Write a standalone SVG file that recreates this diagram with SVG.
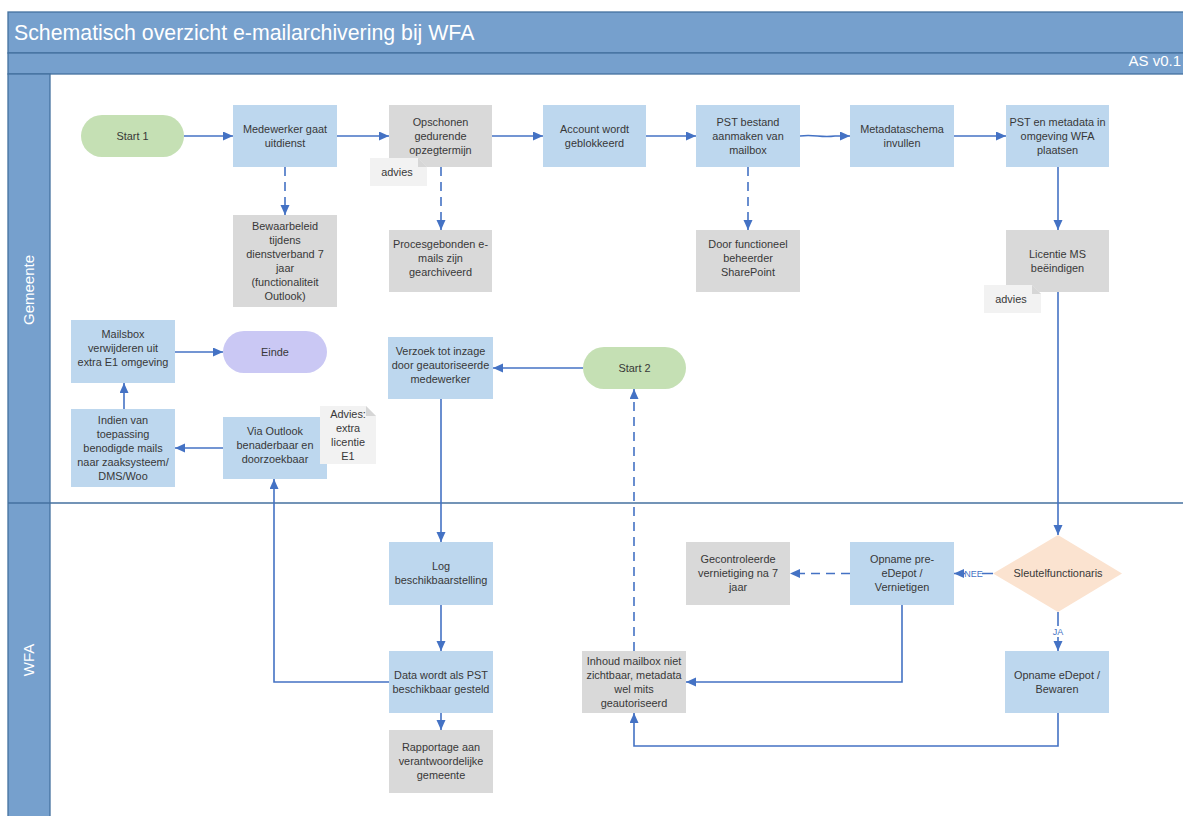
<svg xmlns="http://www.w3.org/2000/svg" width="1183" height="816" viewBox="0 0 1183 816">
<defs>
<style>
.band{fill:#76a0cd;stroke:#44719f;stroke-width:1.3}
.blue{fill:#bdd7ee}
.grey{fill:#d9d9d9}
.green{fill:#c5e0b4}
.lav{fill:#cac8f4}
.dia{fill:#fbe3d0}
.note{fill:#f2f2f2}
.fold{fill:#d6d6d6}
.t{font-family:"Liberation Sans",Arial,sans-serif;font-size:10.9px;fill:#383838;text-anchor:middle}
.lbl{font-family:"Liberation Sans",Arial,sans-serif;font-size:9px;fill:#4472c4;text-anchor:middle}
.c{stroke:#4472c4;stroke-width:1.6;fill:none}
.d{stroke-dasharray:9 6}
.a{marker-end:url(#ah)}
.lane{font-family:"Liberation Sans",Arial,sans-serif;font-size:15px;fill:#fff;text-anchor:middle}
</style>
<marker id="ah" markerWidth="10" markerHeight="10" refX="10" refY="4.5" orient="auto" markerUnits="userSpaceOnUse">
<path d="M0,0 L10,4.5 L0,9 z" fill="#4472c4"/>
</marker>
</defs>
<rect width="1183" height="816" fill="#fff"/>
<g id="frame">
<rect class="band" x="8" y="12" width="1185" height="41"/>
<rect class="band" x="8" y="53" width="1185" height="21"/>
<rect class="band" x="8" y="74" width="42" height="760"/>
<line x1="8" y1="503" x2="1190" y2="503" stroke="#44719f" stroke-width="1.3"/>
<text x="14" y="40" font-family="Liberation Sans,Arial,sans-serif" font-size="21.3" fill="#fff">Schematisch overzicht e-mailarchivering bij WFA</text>
<text x="1181" y="66" font-family="Liberation Sans,Arial,sans-serif" font-size="15" fill="#fff" text-anchor="end">AS v0.1</text>
<text class="lane" transform="translate(34,290) rotate(-90)">Gemeente</text>
<text class="lane" transform="translate(34,660) rotate(-90)">WFA</text>
</g>
<g id="connectors">
<path class="c a" d="M184 136 H233"/>
<path class="c a" d="M337 136 H389"/>
<path class="c a" d="M492 136 H543"/>
<path class="c a" d="M646 136 H696"/>
<path class="c a" d="M800 136 C815 134 820 138 835 136 H850"/>
<path class="c a" d="M954 136 H1006"/>
<path class="c d a" d="M285 167 V215"/>
<path class="c d a" d="M441 167 V230"/>
<path class="c d a" d="M748 167 V230"/>
<path class="c a" d="M1058 167 V230"/>
<path class="c a" d="M1058 292 V535"/>
<path class="c a" d="M993 573.5 H954"/>
<path class="c d a" d="M850 573.5 H790"/>
<path class="c a" d="M1058 612 V651"/>
<path class="c a" d="M902 605 V682 H686"/>
<path class="c a" d="M1058 713 V746 H634 V713"/>
<path class="c d a" d="M634 651 V389"/>
<path class="c a" d="M583 368 H493"/>
<path class="c a" d="M441 399 V542"/>
<path class="c a" d="M441 605 V651"/>
<path class="c a" d="M441 713 V730"/>
<path class="c a" d="M389 682 H274 V479"/>
<path class="c a" d="M223 448 H175"/>
<path class="c a" d="M124 409 V383"/>
<path class="c a" d="M175 352 H223"/>
<rect x="965" y="567" width="17" height="12" fill="#fff"/>
<text class="lbl" x="973.5" y="576.5">NEE</text>
<rect x="1050" y="626" width="16" height="11" fill="#fff"/>
<text class="lbl" x="1058" y="635">JA</text>
</g>
<g id="start1"><rect class="green" x="81" y="115" width="103" height="42" rx="21"/><text class="t" x="132.5" y="139.5">Start 1</text></g>
<g id="medewerker"><rect class="blue" x="233" y="105" width="104" height="62"/><text class="t" x="285" y="132.5">Medewerker gaat</text><text class="t" x="285" y="146.5">uitdienst</text></g>
<g id="opschonen"><rect class="grey" x="389" y="105" width="103" height="62"/><text class="t" x="440.5" y="125.5">Opschonen</text><text class="t" x="440.5" y="139.5">gedurende</text><text class="t" x="440.5" y="153.5">opzegtermijn</text></g>
<g id="advies1"><path class="note" d="M370 158 H418 L427 167 V186 H370 Z"/><path class="fold" d="M418 158 V167 H427 Z"/><text class="t" x="397" y="175.5">advies</text></g>
<g id="account"><rect class="blue" x="543" y="105" width="103" height="62"/><text class="t" x="594.5" y="132.5">Account wordt</text><text class="t" x="594.5" y="146.5">geblokkeerd</text></g>
<g id="pst"><rect class="blue" x="696" y="105" width="104" height="62"/><text class="t" x="748" y="125.5">PST bestand</text><text class="t" x="748" y="139.5">aanmaken van</text><text class="t" x="748" y="153.5">mailbox</text></g>
<g id="metadata"><rect class="blue" x="850" y="105" width="104" height="62"/><text class="t" x="902" y="132.5">Metadataschema</text><text class="t" x="902" y="146.5">invullen</text></g>
<g id="pstwfa"><rect class="blue" x="1006" y="105" width="103" height="62"/><text class="t" x="1057.5" y="125.5">PST en metadata in</text><text class="t" x="1057.5" y="139.5">omgeving WFA</text><text class="t" x="1057.5" y="153.5">plaatsen</text></g>
<g id="bewaar"><rect class="grey" x="233" y="215" width="104" height="92"/><text class="t" x="285" y="229.5">Bewaarbeleid</text><text class="t" x="285" y="243.5">tijdens</text><text class="t" x="285" y="257.5">dienstverband 7</text><text class="t" x="285" y="271.5">jaar</text><text class="t" x="285" y="285.5">(functionaliteit</text><text class="t" x="285" y="299.5">Outlook)</text></g>
<g id="procesgebonden"><rect class="grey" x="389" y="230" width="103" height="62"/><text class="t" x="440.5" y="247.5">Procesgebonden e-</text><text class="t" x="440.5" y="261.5">mails zijn</text><text class="t" x="440.5" y="275.5">gearchiveerd</text></g>
<g id="doorfunctioneel"><rect class="grey" x="696" y="230" width="104" height="62"/><text class="t" x="748" y="247.5">Door functioneel</text><text class="t" x="748" y="261.5">beheerder</text><text class="t" x="748" y="275.5">SharePoint</text></g>
<g id="licentie"><rect class="grey" x="1006" y="230" width="103" height="62"/><text class="t" x="1057.5" y="257.5">Licentie MS</text><text class="t" x="1057.5" y="271.5">beëindigen</text></g>
<g id="advies2"><path class="note" d="M984 285 H1032 L1041 294 V313 H984 Z"/><path class="fold" d="M1032 285 V294 H1041 Z"/><text class="t" x="1011" y="302.5">advies</text></g>
<g id="mailsbox"><rect class="blue" x="71" y="320" width="104" height="63"/><text class="t" x="123" y="338">Mailsbox</text><text class="t" x="123" y="352">verwijderen uit</text><text class="t" x="123" y="366">extra E1 omgeving</text></g>
<g id="einde"><rect class="lav" x="223" y="331" width="104" height="42" rx="21"/><text class="t" x="275" y="355.5">Einde</text></g>
<g id="indien"><rect class="blue" x="71" y="409" width="104" height="78"/><text class="t" x="123" y="423.5">Indien van</text><text class="t" x="123" y="437.5">toepassing</text><text class="t" x="123" y="451.5">benodigde mails</text><text class="t" x="123" y="465.5">naar zaaksysteem/</text><text class="t" x="123" y="479.5">DMS/Woo</text></g>
<g id="viaoutlook"><rect class="blue" x="223" y="417" width="104" height="62"/><text class="t" x="275" y="434.5">Via Outlook</text><text class="t" x="275" y="448.5">benaderbaar en</text><text class="t" x="275" y="462.5">doorzoekbaar</text></g>
<g id="adviesE1"><path class="note" d="M320 406 H366 L376 416 V464 H320 Z"/><path class="fold" d="M366 406 V416 H376 Z"/><text class="t" x="348" y="417.5">Advies:</text><text class="t" x="348" y="431.5">extra</text><text class="t" x="348" y="445.5">licentie</text><text class="t" x="348" y="459.5">E1</text></g>
<g id="verzoek"><rect class="blue" x="388" y="337" width="105" height="62"/><text class="t" x="440.5" y="354.5">Verzoek tot inzage</text><text class="t" x="440.5" y="368.5">door geautoriseerde</text><text class="t" x="440.5" y="382.5">medewerker</text></g>
<g id="start2"><rect class="green" x="583" y="347" width="103" height="42" rx="21"/><text class="t" x="634.5" y="371.5">Start 2</text></g>
<g id="log"><rect class="blue" x="389" y="542" width="104" height="63"/><text class="t" x="441" y="570">Log</text><text class="t" x="441" y="584">beschikbaarstelling</text></g>
<g id="data"><rect class="blue" x="389" y="651" width="104" height="62"/><text class="t" x="441" y="678.5">Data wordt als PST</text><text class="t" x="441" y="692.5">beschikbaar gesteld</text></g>
<g id="rapportage"><rect class="grey" x="389" y="730" width="104" height="63"/><text class="t" x="441" y="751">Rapportage aan</text><text class="t" x="441" y="765">verantwoordelijke</text><text class="t" x="441" y="779">gemeente</text></g>
<g id="inhoud"><rect class="grey" x="582" y="651" width="104" height="62"/><text class="t" x="634" y="664.5">Inhoud mailbox niet</text><text class="t" x="634" y="678.5">zichtbaar, metadata</text><text class="t" x="634" y="692.5">wel mits</text><text class="t" x="634" y="706.5">geautoriseerd</text></g>
<g id="gecontroleerde"><rect class="grey" x="686" y="542" width="104" height="63"/><text class="t" x="738" y="563">Gecontroleerde</text><text class="t" x="738" y="577">vernietiging na 7</text><text class="t" x="738" y="591">jaar</text></g>
<g id="prede"><rect class="blue" x="850" y="542" width="104" height="63"/><text class="t" x="902" y="563">Opname pre-</text><text class="t" x="902" y="577">eDepot /</text><text class="t" x="902" y="591">Vernietigen</text></g>
<g id="sleutel"><path class="dia" d="M1058 535 L1122 573.5 L1058 612 L993 573.5 Z"/><text class="t" x="1058" y="577">Sleutelfunctionaris</text></g>
<g id="edepot"><rect class="blue" x="1005" y="651" width="104" height="62"/><text class="t" x="1057" y="678.5">Opname eDepot /</text><text class="t" x="1057" y="692.5">Bewaren</text></g>
</svg>
